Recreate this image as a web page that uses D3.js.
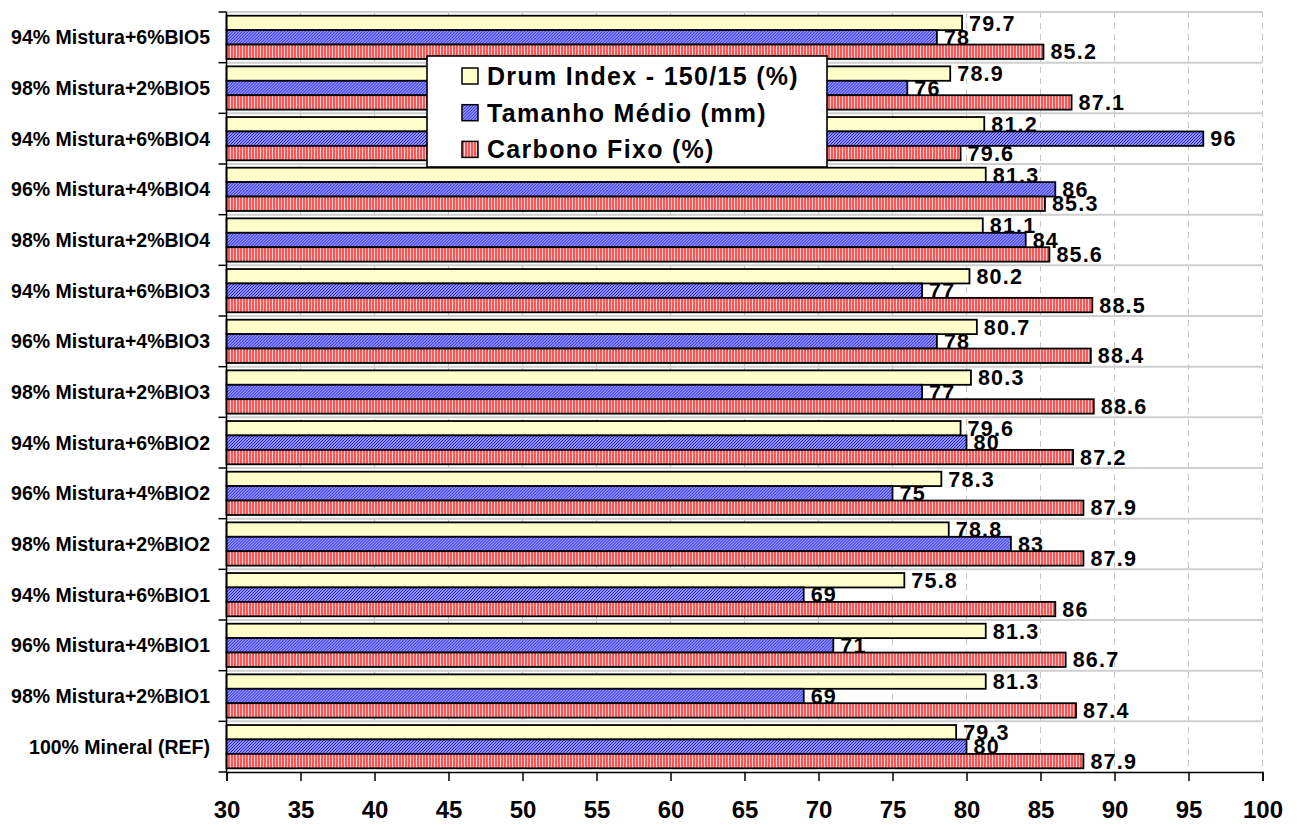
<!DOCTYPE html>
<html>
<head>
<meta charset="utf-8">
<script src="https://cdn.jsdelivr.net/npm/d3@7"></script>
<style>
  html, body { margin: 0; padding: 0; background: #ffffff; }
  svg { display: block; }
  text { font-family: "Liberation Sans", Arial, Helvetica, sans-serif; font-weight: bold; fill: #000; }
</style>
</head>
<body>
<svg id="chart" width="1297" height="825"></svg>
<script>
// Categories, top to bottom
const categories = [
  "94% Mistura+6%BIO5",
  "98% Mistura+2%BIO5",
  "94% Mistura+6%BIO4",
  "96% Mistura+4%BIO4",
  "98% Mistura+2%BIO4",
  "94% Mistura+6%BIO3",
  "96% Mistura+4%BIO3",
  "98% Mistura+2%BIO3",
  "94% Mistura+6%BIO2",
  "96% Mistura+4%BIO2",
  "98% Mistura+2%BIO2",
  "94% Mistura+6%BIO1",
  "96% Mistura+4%BIO1",
  "98% Mistura+2%BIO1",
  "100% Mineral (REF)"
];

const seriesNames = ["Drum Index - 150/15 (%)", "Tamanho Médio (mm)", "Carbono Fixo (%)"];

const drumIndex = [79.7, 78.9, 81.2, 81.3, 81.1, 80.2, 80.7, 80.3, 79.6, 78.3, 78.8, 75.8, 81.3, 81.3, 79.3];
const tamanhoMedio = [78, 76, 96, 86, 84, 77, 78, 77, 80, 75, 83, 69, 71, 69, 80];
const carbonoFixo = [85.2, 87.1, 79.6, 85.3, 85.6, 88.5, 88.4, 88.6, 87.2, 87.9, 87.9, 86, 86.7, 87.4, 87.9];

const xTicks = [30, 35, 40, 45, 50, 55, 60, 65, 70, 75, 80, 85, 90, 95, 100];

const seriesValues = [drumIndex, tamanhoMedio, carbonoFixo];
const fills = ["#ffffcc", "url(#hatchBlue)", "url(#stripeRed)"];

const svg = d3.select("#chart");

// Fill patterns for the bars
const defs = svg.append("defs");
const pb = defs.append("pattern")
  .attr("id", "hatchBlue").attr("patternUnits", "userSpaceOnUse")
  .attr("width", 3).attr("height", 3);
pb.append("rect").attr("width", 3).attr("height", 3).attr("fill", "#ffffff");
pb.append("path").attr("d", "M0,3 L3,0 M-1,1 L1,-1 M2,4 L4,2")
  .attr("stroke", "#2424ff").attr("stroke-width", 1.4);

const pr = defs.append("pattern")
  .attr("id", "stripeRed").attr("patternUnits", "userSpaceOnUse")
  .attr("width", 3).attr("height", 3);
pr.append("rect").attr("width", 3).attr("height", 3).attr("fill", "#ffd0d0");
pr.append("rect").attr("width", 2).attr("height", 3).attr("fill", "#ff5555");

const plot = { left: 226.5, right: 1262.5, top: 12, bottom: 772 };

const x = d3.scaleLinear().domain([30, 100]).range([plot.left, plot.right]);
const y = d3.scaleBand().domain(categories).range([plot.top, plot.bottom])
  .paddingInner(0.146).paddingOuter(0.073);
const ySeries = d3.scaleBand().domain(d3.range(seriesNames.length)).range([0, y.bandwidth()]);
const step = y.step();

// Vertical dashed gridlines
svg.append("g").selectAll("line")
  .data(xTicks.slice(1))
  .join("line")
  .attr("x1", d => x(d)).attr("x2", d => x(d))
  .attr("y1", plot.top).attr("y2", plot.bottom)
  .attr("stroke", "#c4c4c4").attr("stroke-width", 1)
  .attr("stroke-dasharray", "6,5");

// Horizontal separators between categories, and top frame line
const bounds = d3.range(categories.length).map(i => plot.top + i * step);
svg.append("g").selectAll("line")
  .data(bounds)
  .join("line")
  .attr("x1", plot.left).attr("x2", plot.right)
  .attr("y1", d => d).attr("y2", d => d)
  .attr("stroke", "#cfcfcf").attr("stroke-width", 2);

// Bars
const groups = svg.append("g").selectAll("g")
  .data(categories)
  .join("g")
  .attr("transform", d => `translate(0,${y(d)})`);

groups.each(function (cat, ci) {
  const g = d3.select(this);
  seriesValues.forEach((vals, si) => {
    g.append("rect")
      .attr("x", x(30))
      .attr("y", ySeries(si))
      .attr("width", x(vals[ci]) - x(30))
      .attr("height", ySeries.bandwidth())
      .attr("fill", fills[si])
      .attr("stroke", "#000")
      .attr("stroke-width", 1.8);
  });
});

// Value labels
groups.each(function (cat, ci) {
  const g = d3.select(this);
  seriesValues.forEach((vals, si) => {
    g.append("text")
      .attr("x", x(vals[ci]) + 7)
      .attr("y", ySeries(si) + ySeries.bandwidth() / 2)
      .attr("dy", "0.36em")
      .attr("font-size", 21.5)
      .attr("letter-spacing", 1.2)
      .text(vals[ci]);
  });
});

// Left axis with ticks at category boundaries
const yAxisG = svg.append("g");
yAxisG.append("line")
  .attr("x1", plot.left).attr("x2", plot.left)
  .attr("y1", plot.top).attr("y2", plot.bottom)
  .attr("stroke", "#000").attr("stroke-width", 1.5);
yAxisG.selectAll("line.tk")
  .data(bounds.concat([plot.bottom]))
  .join("line").attr("class", "tk")
  .attr("x1", plot.left - 8).attr("x2", plot.left)
  .attr("y1", d => d).attr("y2", d => d)
  .attr("stroke", "#000").attr("stroke-width", 1.5);
yAxisG.selectAll("text")
  .data(categories)
  .join("text")
  .attr("x", 210)
  .attr("y", d => y(d) + y.bandwidth() / 2)
  .attr("dy", "0.36em")
  .attr("text-anchor", "end")
  .attr("font-size", 19.5)
  .text(d => d);

// Bottom axis
const xAxis = d3.axisBottom(x).tickValues(xTicks).tickSize(9).tickPadding(20);
const xAxisG = svg.append("g")
  .attr("transform", `translate(0,${plot.bottom})`)
  .call(xAxis);
xAxisG.select(".domain").attr("stroke", "#000").attr("stroke-width", 1.5);
xAxisG.selectAll(".tick line").attr("stroke", "#000").attr("stroke-width", 1.5);
xAxisG.selectAll(".tick text")
  .attr("font-family", "\"Liberation Sans\", Arial, sans-serif")
  .attr("font-weight", "bold")
  .attr("font-size", 24)
  .attr("fill", "#000");

// Legend
const legend = svg.append("g").attr("transform", "translate(427,56)");
legend.append("rect")
  .attr("width", 400).attr("height", 111)
  .attr("fill", "#ffffff").attr("stroke", "#000").attr("stroke-width", 1.6);
seriesNames.forEach((name, i) => {
  const row = legend.append("g").attr("transform", `translate(35,${12 + i * 36.7})`);
  row.append("rect")
    .attr("width", 16).attr("height", 16)
    .attr("fill", fills[i]).attr("stroke", "#000").attr("stroke-width", 1.5);
  row.append("text")
    .attr("x", 25).attr("y", 17)
    .attr("font-size", 25)
    .attr("letter-spacing", 1.3)
    .text(name);
});
</script>
</body>
</html>
